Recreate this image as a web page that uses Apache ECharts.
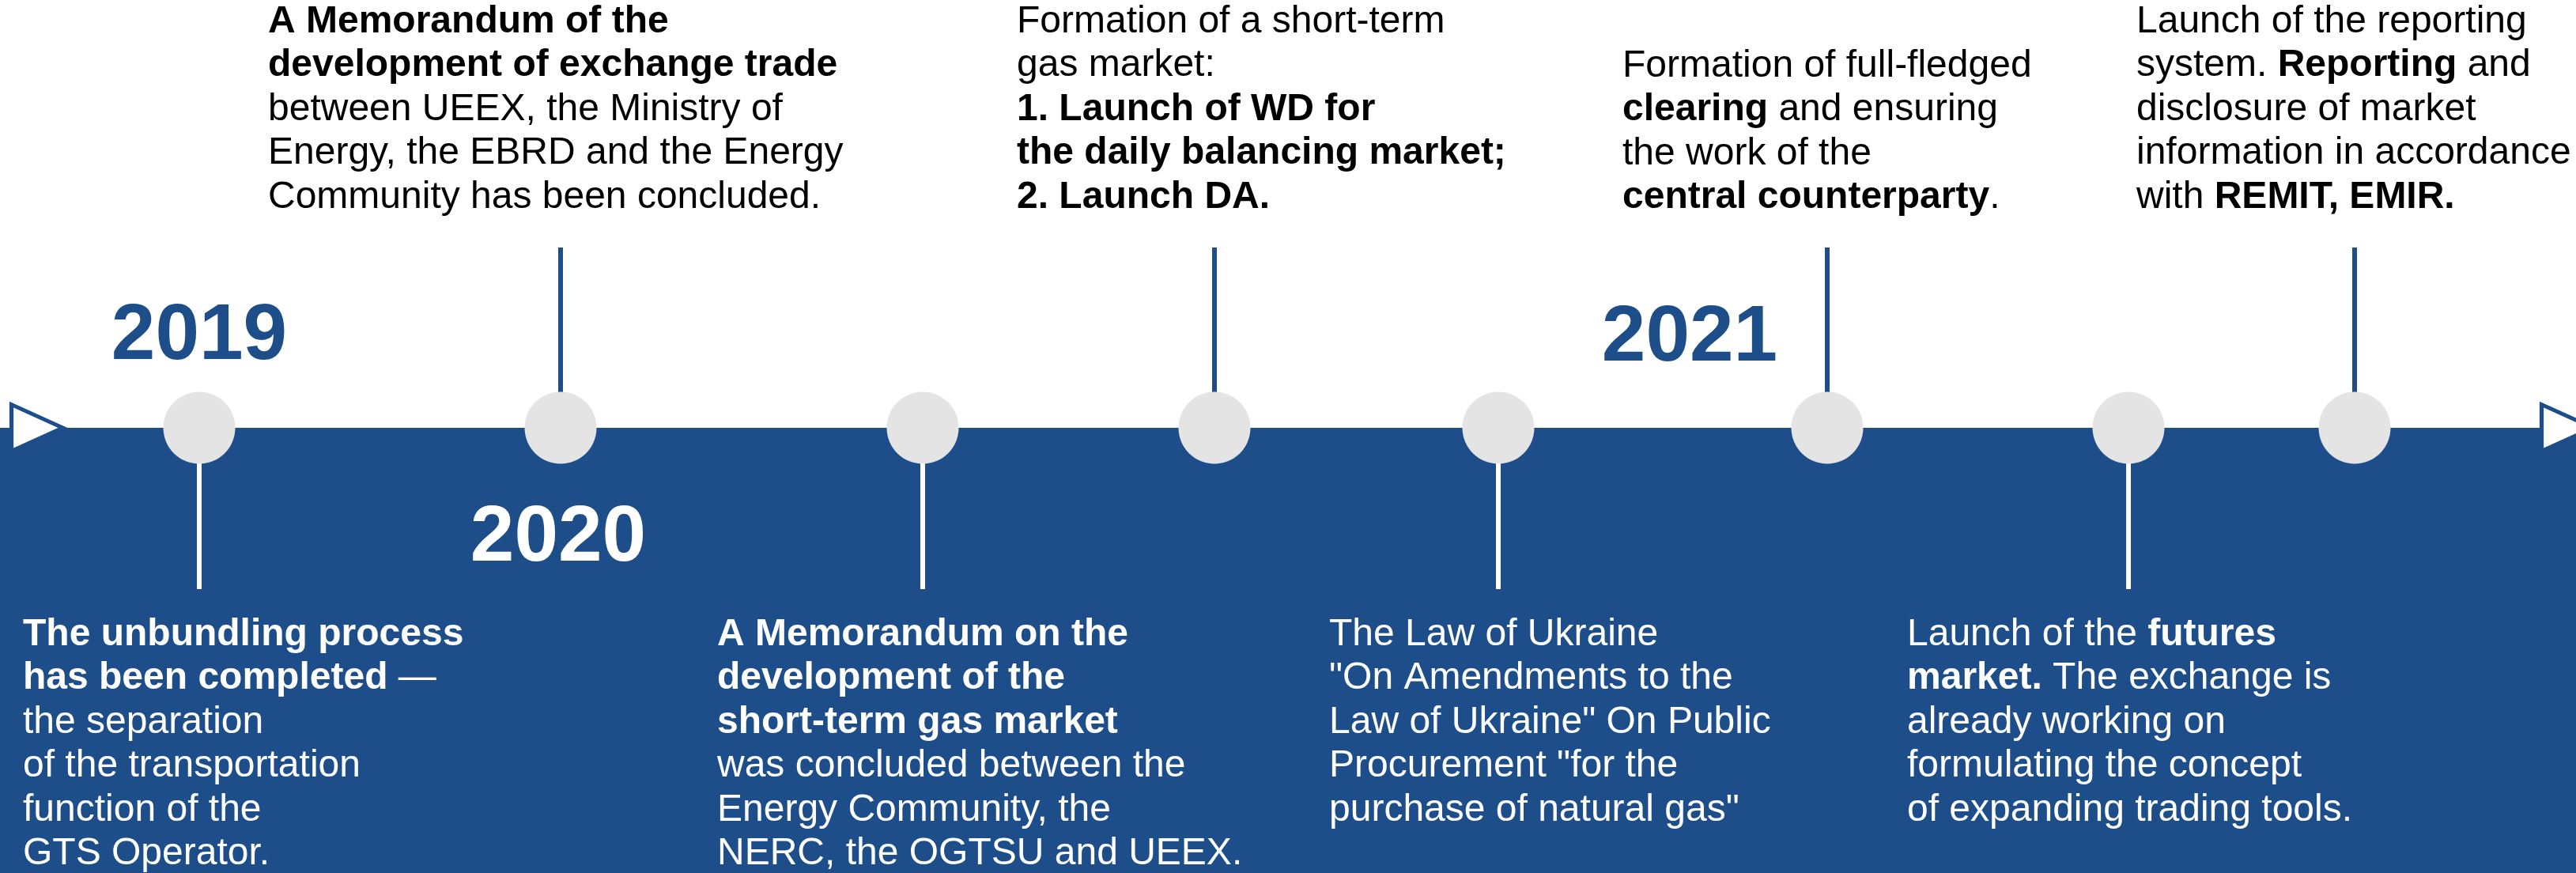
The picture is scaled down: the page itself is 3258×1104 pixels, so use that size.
<!DOCTYPE html>
<html>
<head>
<meta charset="utf-8">
<title>Timeline</title>
<script src="https://cdn.jsdelivr.net/npm/echarts@6/dist/echarts.min.js"></script>
<style>
  html, body { margin: 0; padding: 0; background: #fff; }
  #chart { width: 3258px; height: 1104px; }
</style>
</head>
<body>
<div id="chart"></div>
<script>
// timeline events: position along the line, which side the note sits on, note text
const eventPos = [252, 709, 1167, 1536, 1895, 2311, 2692, 2978];
const eventSide = ["down", "up", "down", "up", "down", "up", "down", "up"];
const eventText = [
  ["**The unbundling process**", "**has been completed** —", "the separation", "of the transportation", "function of the", "GTS Operator."],
  ["**A Memorandum of the**", "**development of exchange trade**", "between UEEX, the Ministry of", "Energy, the EBRD and the Energy", "Community has been concluded."],
  ["**A Memorandum on the**", "**development of the**", "**short-term gas market**", "was concluded between the", "Energy Community, the", "NERC, the OGTSU and UEEX."],
  ["Formation of a short-term", "gas market:", "**1. Launch of WD for**", "**the daily balancing market;**", "**2. Launch DA.**"],
  ["The Law of Ukraine", "\"On Amendments to the", "Law of Ukraine\" On Public", "Procurement \"for the", "purchase of natural gas\""],
  ["Formation of full-fledged", "**clearing** and ensuring", "the work of the", "**central counterparty**."],
  ["Launch of the **futures**", "**market.** The exchange is", "already working on", "formulating the concept", "of expanding trading tools."],
  ["Launch of the reporting", "system. **Reporting** and", "disclosure of market", "information in accordance", "with **REMIT, EMIR.**"]
];
const yearLabels = ["2019", "2020", "2021"];
const yearPos = [252, 706, 2137];

// layout
const W = 3258, H = 1104;
const lineY = 541;
const textLeft = [29, 339, 907, 1286, 1681, 2052, 2412, 2702];
const textTop = [775, 0, 775, 0, 775, 56, 775, 0];
const yearY = [426, 681, 428];
const yearColor = ["#1d4e89", "#ffffff", "#1d4e89"];
const BLUE = "#1d4e89";
const FONT = "Liberation Sans";

function toRich(lines) {
  return lines.map(function (l) {
    return l.split("**").map(function (seg, k) {
      if (!seg) return "";
      return k % 2 ? "{b|" + seg + "}" : "{n|" + seg + "}";
    }).join("");
  }).join("\n");
}

function richStyles(color) {
  return {
    n: { fontSize: 48, fontFamily: FONT, fontWeight: "normal", lineHeight: 55.5, fill: color },
    b: { fontSize: 48, fontFamily: FONT, fontWeight: "bold", lineHeight: 55.5, fill: color }
  };
}

const myChart = echarts.init(document.getElementById("chart"));
myChart.setOption({
  animation: false,
  grid: { left: 0, right: 0, top: 0, bottom: 0 },
  xAxis: { type: "value", min: 0, max: W, show: false },
  yAxis: { type: "value", min: 0, max: H, inverse: true, show: false },
  series: [
    {
      // blue band under the timeline
      type: "custom",
      silent: true,
      z: 1,
      data: [[0, W]],
      renderItem: function (params, api) {
        const a = api.coord([api.value(0), lineY]);
        const b = api.coord([api.value(1), H]);
        return { type: "rect", shape: { x: a[0], y: a[1], width: b[0] - a[0], height: b[1] - a[1] }, style: { fill: BLUE } };
      }
    },
    {
      // connectors
      type: "custom",
      silent: true,
      z: 2,
      data: eventPos.map(function (x) { return [x]; }),
      renderItem: function (params, api) {
        const up = eventSide[params.dataIndex] === "up";
        const p1 = api.coord([api.value(0), up ? 313 : 586]);
        const p2 = api.coord([api.value(0), up ? 500 : 745]);
        return {
          type: "line",
          shape: { x1: p1[0], y1: p1[1], x2: p2[0], y2: p2[1] },
          style: { stroke: up ? BLUE : "#ffffff", lineWidth: 6 }
        };
      }
    },
    {
      type: "scatter",
      silent: true,
      z: 3,
      symbol: "circle",
      symbolSize: 91,
      itemStyle: { color: "#e4e4e4", opacity: 1 },
      data: eventPos.map(function (x) { return [x, lineY]; })
    },
    {
      // arrow heads at both ends
      type: "scatter",
      silent: true,
      z: 4,
      symbol: "triangle",
      symbolRotate: -90,
      symbolSize: [59, 65],
      itemStyle: { color: "#ffffff", borderColor: BLUE, borderWidth: 5, opacity: 1 },
      data: [[47, lineY], [W - 11, lineY]]
    },
    {
      // event notes
      type: "custom",
      silent: true,
      z: 5,
      data: eventPos.map(function (x) { return [x]; }),
      renderItem: function (params, api) {
        const i = params.dataIndex;
        const p = api.coord([textLeft[i], textTop[i]]);
        const color = eventSide[i] === "up" ? "#000000" : "#ffffff";
        return {
          type: "text",
          x: p[0],
          y: p[1],
          style: {
            text: toRich(eventText[i]),
            rich: richStyles(color),
            fill: color,
            fontSize: 48,
            fontFamily: FONT,
            lineHeight: 55.5,
            align: "left",
            verticalAlign: "top"
          }
        };
      }
    },
    {
      // years
      type: "custom",
      silent: true,
      z: 5,
      data: yearPos.map(function (x) { return [x]; }),
      renderItem: function (params, api) {
        const i = params.dataIndex;
        const p = api.coord([api.value(0), yearY[i]]);
        return {
          type: "text",
          x: p[0],
          y: p[1],
          style: {
            text: yearLabels[i],
            fill: yearColor[i],
            fontSize: 100,
            fontWeight: "bold",
            fontFamily: FONT,
            align: "center",
            verticalAlign: "middle"
          }
        };
      }
    }
  ]
});
</script>
</body>
</html>
